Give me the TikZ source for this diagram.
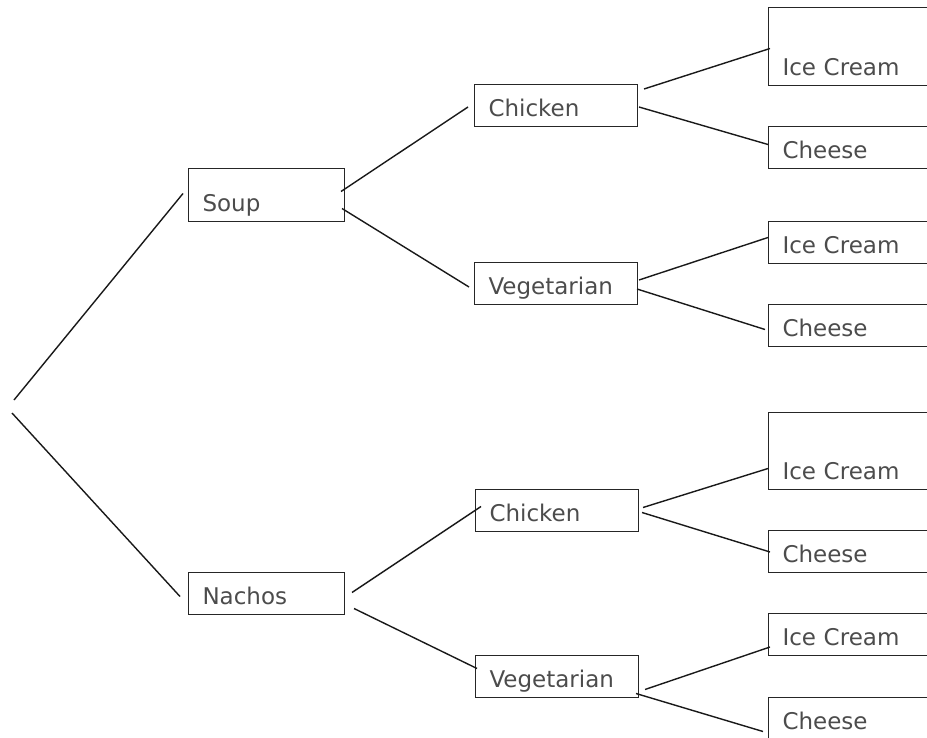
\documentclass[tikz,border=0pt]{standalone}
\usepackage{fontspec}
\setmainfont{DejaVu Sans}
\usetikzlibrary{positioning}

\tikzset{
  choice/.style={draw=black!85, line width=1pt, anchor=south west, align=left,
    inner xsep=14pt, inner ysep=0pt, text depth=10pt, text height=32pt,
    text=black!70, font=\fontsize{23}{26}\selectfont},
  starter/.style={choice, text width=128pt},
  main/.style={choice, text width=135pt},
  dessert/.style={choice, text width=172pt},
  branch/.style={draw=black!90, line width=1.4pt},
}

\begin{document}
\begin{tikzpicture}[x=1pt, y=-1pt]
\useasboundingbox (0,0) rectangle (927,738);
\clip (0,0) rectangle (927,738);

% starters
\node[starter, text height=43pt] (soup) at (188,222) {Soup};
\node[starter] (nachos) at (188,615) {Nachos};

% mains
\node[main] (chicken-1) at (474,127) {Chicken};
\node[main] (veg-1) at (474,305) {Vegetarian};
\node[main] (chicken-2) at (475,532) {Chicken};
\node[main] (veg-2) at (475,698) {Vegetarian};

% desserts
\node[dessert, text height=68pt] (ice-1) at (768,86) {Ice Cream};
\node[dessert] (cheese-1) at (768,169) {Cheese};
\node[dessert] (ice-2) at (768,264) {Ice Cream};
\node[dessert] (cheese-2) at (768,347) {Cheese};
\node[dessert, text height=67pt] (ice-3) at (768,490) {Ice Cream};
\node[dessert] (cheese-3) at (768,573) {Cheese};
\node[dessert] (ice-4) at (768,656) {Ice Cream};
\node[dessert] (cheese-4) at (768,740) {Cheese};

\coordinate (root-a) at (14,400);
\coordinate (root-b) at (12,413);

\draw[branch] (root-a) -- ([shift={(-5,-1.5)}]soup.west);
\draw[branch] (root-b) -- ([shift={(-8,3)}]nachos.west);

\draw[branch] ([shift={(-4,-3.5)}]soup.east) -- ([shift={(-6,1.5)}]chicken-1.west);
\draw[branch] ([shift={(-3,13.5)}]soup.east) -- ([shift={(-5,3.5)}]veg-1.west);
\draw[branch] ([shift={(7,-1)}]nachos.east) -- ([shift={(6,-4)}]chicken-2.west);
\draw[branch] ([shift={(9,15)}]nachos.east) -- ([shift={(2,-8)}]veg-2.west);

\draw[branch] ([shift={(6,-16.5)}]chicken-1.east) -- ([shift={(2,2)}]ice-1.west);
\draw[branch] ([shift={(1,1.5)}]chicken-1.east) -- ([shift={(0,-3)}]cheese-1.west);
\draw[branch] ([shift={(1,-3.5)}]veg-1.east) -- ([shift={(0,-5)}]ice-2.west);
\draw[branch] ([shift={(-1,5.5)}]veg-1.east) -- ([shift={(-3,4)}]cheese-2.west);
\draw[branch] ([shift={(4,-3)}]chicken-2.east) -- ([shift={(0,17.5)}]ice-3.west);
\draw[branch] ([shift={(3,2)}]chicken-2.east) -- ([shift={(2,0.5)}]cheese-3.west);
\draw[branch] ([shift={(6,13)}]veg-2.east) -- ([shift={(2,12.5)}]ice-4.west);
\draw[branch] ([shift={(-3,17)}]veg-2.east) -- ([shift={(-5,13)}]cheese-4.west);

\end{tikzpicture}
\end{document}
